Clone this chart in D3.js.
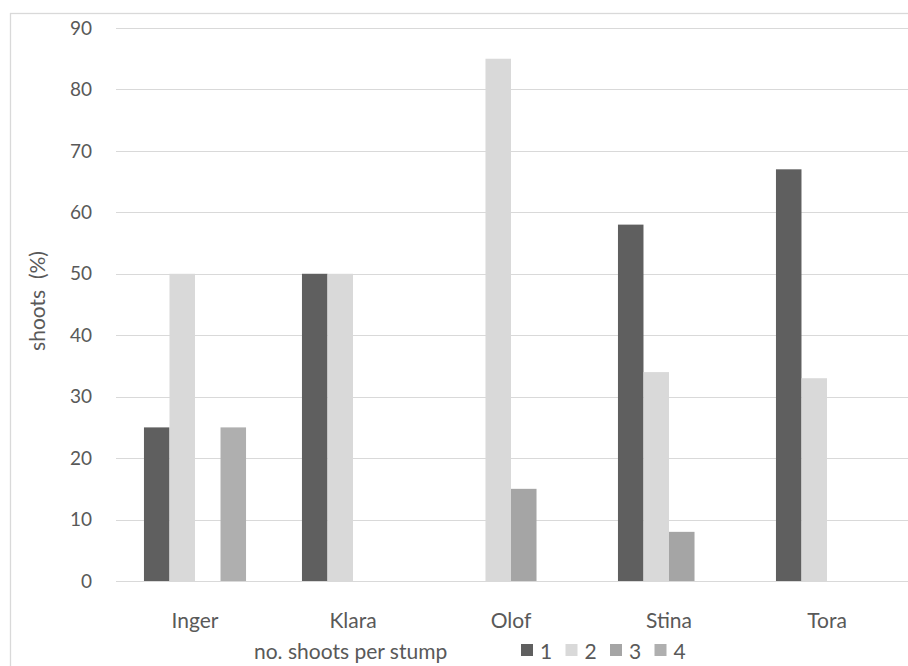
<!DOCTYPE html>
<html>
<head>
<meta charset="utf-8">
<script src="https://cdn.jsdelivr.net/npm/d3@7/dist/d3.min.js"></script>
<style>
  html, body { margin: 0; padding: 0; background: #fff; }
  svg { display: block; }
  text { font-family: Lato, "Open Sans", sans-serif; fill: #595959; }
</style>
</head>
<body>
<svg id="chart" width="908" height="666"></svg>
<script>
const categories = ["Inger", "Klara", "Olof", "Stina", "Tora"];
const seriesNames = ["1", "2", "3", "4"];
const series1 = [25, 50, 0, 58, 67];
const series2 = [50, 50, 85, 34, 33];
const series3 = [0, 0, 15, 8, 0];
const series4 = [25, 0, 0, 0, 0];
const yTicks = [0, 10, 20, 30, 40, 50, 60, 70, 80, 90];
const colors = ["#5f5f5f", "#d9d9d9", "#a5a5a5", "#afafaf"];
const yTitle = "shoots  (%)";
const legendTitle = "no. shoots per stump";

const allSeries = [series1, series2, series3, series4];

const svg = d3.select("#chart");

// chart border
svg.append("rect")
  .attr("x", 10.5).attr("y", 13.5)
  .attr("width", 1000).attr("height", 1000)
  .attr("fill", "none").attr("stroke", "#d9d9d9").attr("stroke-width", 1.3);

const x0 = d3.scaleBand().domain(categories).range([116, 906])
  .paddingInner(0.354).paddingOuter(0.177);
const x1 = d3.scaleBand().domain(seriesNames).range([0, x0.bandwidth()]);
const y = d3.scaleLinear().domain([0, 90]).range([581, 28]);

// gridlines
svg.append("g").selectAll("line").data(yTicks).join("line")
  .attr("x1", 116).attr("x2", 908)
  .attr("y1", d => Math.round(y(d)) + 0.5).attr("y2", d => Math.round(y(d)) + 0.5)
  .attr("stroke", "#d9d9d9").attr("stroke-width", 1.2);

// y tick labels
svg.append("g").selectAll("text").data(yTicks).join("text")
  .attr("x", 92).attr("y", d => y(d))
  .attr("dy", "0.35em")
  .attr("text-anchor", "end")
  .style("font-size", "19px")
  .text(d => d);

// bars
const groups = svg.append("g").selectAll("g").data(categories).join("g")
  .attr("transform", c => `translate(${x0(c)},0)`);
groups.selectAll("rect")
  .data((c, i) => seriesNames.map((s, j) => ({ s, j, v: allSeries[j][i] })).filter(d => d.v > 0))
  .join("rect")
  .attr("x", d => x1(d.s))
  .attr("width", x1.bandwidth())
  .attr("y", d => y(d.v))
  .attr("height", d => y(0) - y(d.v))
  .attr("fill", d => colors[d.j]);

// category labels
svg.append("g").selectAll("text").data(categories).join("text")
  .attr("x", c => x0(c) + x0.bandwidth() / 2)
  .attr("y", 628)
  .attr("text-anchor", "middle")
  .style("font-size", "21px")
  .text(c => c);

// y axis title
svg.append("text")
  .attr("transform", "translate(45,301) rotate(-90)")
  .attr("text-anchor", "middle")
  .style("font-size", "21px")
  .style("white-space", "pre")
  .text(yTitle);

// legend
const legend = svg.append("g");
legend.append("text")
  .attr("x", 254).attr("y", 659)
  .style("font-size", "21px")
  .text(legendTitle);
const items = legend.selectAll("g.item").data(seriesNames).join("g")
  .attr("class", "item")
  .attr("transform", (d, i) => `translate(${521 + i * 44.5},0)`);
items.append("rect")
  .attr("x", 0).attr("y", 644).attr("width", 12).attr("height", 12)
  .attr("fill", (d, i) => colors[i]);
items.append("text")
  .attr("x", 19).attr("y", 659)
  .style("font-size", "21px")
  .text(d => d);
</script>
</body>
</html>
